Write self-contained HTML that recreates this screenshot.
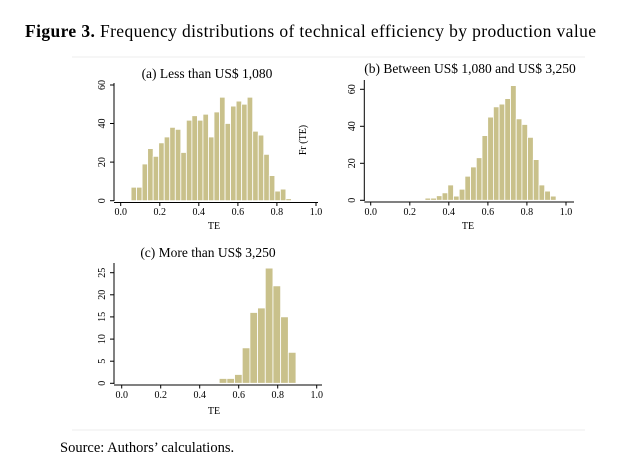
<!DOCTYPE html>
<html><head><meta charset="utf-8"><style>
body{margin:0;background:#fff}
svg{display:block;font-family:"Liberation Serif",serif}
.b rect{fill:#c9c18b;stroke:#fff;stroke-width:0.8}
.t{font-size:10px}
</style></head><body>
<svg width="633" height="471" viewBox="0 0 633 471">
<text x="25" y="37" font-size="17.5" textLength="571"><tspan font-weight="bold">Figure 3.</tspan> Frequency distributions of technical efficiency by production value</text>
<line x1="72" y1="57" x2="585" y2="57" stroke="#eee"/>
<line x1="72" y1="430" x2="585" y2="430" stroke="#eee"/>
<text x="60" y="452" font-size="14.5">Source: Authors’ calculations.</text>

<!-- Panel a -->
<text x="207" y="78" font-size="13.5" text-anchor="middle">(a) Less than US$ 1,080</text>
<g class="b" transform="translate(131.05,200.7) scale(5.53,-1.93)">
<rect x="0" width="1" height="7" vector-effect="non-scaling-stroke"/><rect x="1" width="1" height="7" vector-effect="non-scaling-stroke"/><rect x="2" width="1" height="19" vector-effect="non-scaling-stroke"/><rect x="3" width="1" height="27" vector-effect="non-scaling-stroke"/><rect x="4" width="1" height="23" vector-effect="non-scaling-stroke"/><rect x="5" width="1" height="30" vector-effect="non-scaling-stroke"/><rect x="6" width="1" height="33" vector-effect="non-scaling-stroke"/><rect x="7" width="1" height="38" vector-effect="non-scaling-stroke"/><rect x="8" width="1" height="37" vector-effect="non-scaling-stroke"/><rect x="9" width="1" height="25" vector-effect="non-scaling-stroke"/><rect x="10" width="1" height="41.7" vector-effect="non-scaling-stroke"/><rect x="11" width="1" height="44" vector-effect="non-scaling-stroke"/><rect x="12" width="1" height="41.7" vector-effect="non-scaling-stroke"/><rect x="13" width="1" height="44.8" vector-effect="non-scaling-stroke"/><rect x="14" width="1" height="33" vector-effect="non-scaling-stroke"/><rect x="15" width="1" height="46" vector-effect="non-scaling-stroke"/><rect x="16" width="1" height="53.6" vector-effect="non-scaling-stroke"/><rect x="17" width="1" height="40" vector-effect="non-scaling-stroke"/><rect x="18" width="1" height="49" vector-effect="non-scaling-stroke"/><rect x="19" width="1" height="51.6" vector-effect="non-scaling-stroke"/><rect x="20" width="1" height="50" vector-effect="non-scaling-stroke"/><rect x="21" width="1" height="53.6" vector-effect="non-scaling-stroke"/><rect x="22" width="1" height="36" vector-effect="non-scaling-stroke"/><rect x="23" width="1" height="34" vector-effect="non-scaling-stroke"/><rect x="24" width="1" height="24" vector-effect="non-scaling-stroke"/><rect x="25" width="1" height="13" vector-effect="non-scaling-stroke"/><rect x="26" width="1" height="5" vector-effect="non-scaling-stroke"/><rect x="27" width="1" height="6" vector-effect="non-scaling-stroke"/><rect x="28" width="1" height="1" vector-effect="non-scaling-stroke"/>
</g>
<g stroke="#000" stroke-width="1">
<line x1="114" y1="83" x2="114" y2="201"/>
<line x1="110" y1="200.7" x2="114" y2="200.7"/><line x1="110" y1="162.1" x2="114" y2="162.1"/><line x1="110" y1="123.5" x2="114" y2="123.5"/><line x1="110" y1="85" x2="114" y2="85"/>
<line x1="114" y1="202.5" x2="318" y2="202.5"/>
<line x1="120.7" y1="202.5" x2="120.7" y2="206"/><line x1="159.8" y1="202.5" x2="159.8" y2="206"/><line x1="198.8" y1="202.5" x2="198.8" y2="206"/><line x1="237.9" y1="202.5" x2="237.9" y2="206"/><line x1="276.9" y1="202.5" x2="276.9" y2="206"/><line x1="316" y1="202.5" x2="316" y2="206"/>
</g>
<g class="t" text-anchor="middle">
<text x="120.7" y="215">0.0</text><text x="159.8" y="215">0.2</text><text x="198.8" y="215">0.4</text><text x="237.9" y="215">0.6</text><text x="276.9" y="215">0.8</text><text x="316" y="215">1.0</text>
<text x="214" y="229">TE</text>
<text transform="translate(105,200.7) rotate(-90)">0</text><text transform="translate(105,162.1) rotate(-90)">20</text><text transform="translate(105,123.5) rotate(-90)">40</text><text transform="translate(105,85) rotate(-90)">60</text>
<text transform="translate(306,140) rotate(-90)">Fr (TE)</text>
</g>

<!-- Panel b -->
<text x="470" y="73" font-size="13.5" text-anchor="middle">(b) Between US$ 1,080 and US$ 3,250</text>
<g class="b" transform="translate(425,200.3) scale(5.70,-1.85)">
<rect x="0" width="1" height="1.2" vector-effect="non-scaling-stroke"/><rect x="1" width="1" height="1.2" vector-effect="non-scaling-stroke"/><rect x="2" width="1" height="2.5" vector-effect="non-scaling-stroke"/><rect x="3" width="1" height="4" vector-effect="non-scaling-stroke"/><rect x="4" width="1" height="8.3" vector-effect="non-scaling-stroke"/><rect x="5" width="1" height="2.3" vector-effect="non-scaling-stroke"/><rect x="6" width="1" height="6" vector-effect="non-scaling-stroke"/><rect x="7" width="1" height="13" vector-effect="non-scaling-stroke"/><rect x="8" width="1" height="18" vector-effect="non-scaling-stroke"/><rect x="9" width="1" height="23" vector-effect="non-scaling-stroke"/><rect x="10" width="1" height="35" vector-effect="non-scaling-stroke"/><rect x="11" width="1" height="45" vector-effect="non-scaling-stroke"/><rect x="12" width="1" height="50.5" vector-effect="non-scaling-stroke"/><rect x="13" width="1" height="52" vector-effect="non-scaling-stroke"/><rect x="14" width="1" height="55" vector-effect="non-scaling-stroke"/><rect x="15" width="1" height="62" vector-effect="non-scaling-stroke"/><rect x="16" width="1" height="44" vector-effect="non-scaling-stroke"/><rect x="17" width="1" height="41" vector-effect="non-scaling-stroke"/><rect x="18" width="1" height="34" vector-effect="non-scaling-stroke"/><rect x="19" width="1" height="22" vector-effect="non-scaling-stroke"/><rect x="20" width="1" height="8.3" vector-effect="non-scaling-stroke"/><rect x="21" width="1" height="5" vector-effect="non-scaling-stroke"/><rect x="22" width="1" height="2.3" vector-effect="non-scaling-stroke"/>
</g>
<g stroke="#000" stroke-width="1">
<line x1="364.3" y1="80" x2="364.3" y2="201"/>
<line x1="360" y1="200.3" x2="364.3" y2="200.3"/><line x1="360" y1="163.3" x2="364.3" y2="163.3"/><line x1="360" y1="126.3" x2="364.3" y2="126.3"/><line x1="360" y1="89.3" x2="364.3" y2="89.3"/>
<line x1="364.3" y1="202" x2="574" y2="202"/>
<line x1="370.7" y1="202" x2="370.7" y2="205.5"/><line x1="409.8" y1="202" x2="409.8" y2="205.5"/><line x1="448.8" y1="202" x2="448.8" y2="205.5"/><line x1="487.9" y1="202" x2="487.9" y2="205.5"/><line x1="526.9" y1="202" x2="526.9" y2="205.5"/><line x1="566" y1="202" x2="566" y2="205.5"/>
</g>
<g class="t" text-anchor="middle">
<text x="370.7" y="215">0.0</text><text x="409.8" y="215">0.2</text><text x="448.8" y="215">0.4</text><text x="487.9" y="215">0.6</text><text x="526.9" y="215">0.8</text><text x="566" y="215">1.0</text>
<text x="468" y="229">TE</text>
<text transform="translate(355,200.3) rotate(-90)">0</text><text transform="translate(355,163.3) rotate(-90)">20</text><text transform="translate(355,126.3) rotate(-90)">40</text><text transform="translate(355,89.3) rotate(-90)">60</text>
</g>

<!-- Panel c -->
<text x="208" y="257" font-size="13.5" text-anchor="middle">(c) More than US$ 3,250</text>
<g class="b" transform="translate(219.2,383.3) scale(7.68,-4.43)">
<rect x="0" width="1" height="1.1" vector-effect="non-scaling-stroke"/><rect x="1" width="1" height="1.1" vector-effect="non-scaling-stroke"/><rect x="2" width="1" height="2" vector-effect="non-scaling-stroke"/><rect x="3" width="1" height="8" vector-effect="non-scaling-stroke"/><rect x="4" width="1" height="16" vector-effect="non-scaling-stroke"/><rect x="5" width="1" height="17" vector-effect="non-scaling-stroke"/><rect x="6" width="1" height="26" vector-effect="non-scaling-stroke"/><rect x="7" width="1" height="22" vector-effect="non-scaling-stroke"/><rect x="8" width="1" height="15" vector-effect="non-scaling-stroke"/><rect x="9" width="1" height="7" vector-effect="non-scaling-stroke"/>
</g>
<g stroke="#000" stroke-width="1">
<line x1="114" y1="263" x2="114" y2="384"/>
<line x1="110" y1="383.3" x2="114" y2="383.3"/><line x1="110" y1="361.2" x2="114" y2="361.2"/><line x1="110" y1="339.1" x2="114" y2="339.1"/><line x1="110" y1="316.9" x2="114" y2="316.9"/><line x1="110" y1="294.8" x2="114" y2="294.8"/><line x1="110" y1="272.7" x2="114" y2="272.7"/>
<line x1="114" y1="385" x2="322" y2="385"/>
<line x1="121.7" y1="385" x2="121.7" y2="388.5"/><line x1="160.7" y1="385" x2="160.7" y2="388.5"/><line x1="199.7" y1="385" x2="199.7" y2="388.5"/><line x1="238.7" y1="385" x2="238.7" y2="388.5"/><line x1="277.7" y1="385" x2="277.7" y2="388.5"/><line x1="316.7" y1="385" x2="316.7" y2="388.5"/>
</g>
<g class="t" text-anchor="middle">
<text x="121.7" y="398">0.0</text><text x="160.7" y="398">0.2</text><text x="199.7" y="398">0.4</text><text x="238.7" y="398">0.6</text><text x="277.7" y="398">0.8</text><text x="316.7" y="398">1.0</text>
<text x="214" y="414">TE</text>
<text transform="translate(105,383.3) rotate(-90)">0</text><text transform="translate(105,361.2) rotate(-90)">5</text><text transform="translate(105,339.1) rotate(-90)">10</text><text transform="translate(105,316.9) rotate(-90)">15</text><text transform="translate(105,294.8) rotate(-90)">20</text><text transform="translate(105,272.7) rotate(-90)">25</text>
</g>
</svg>
</body></html>
